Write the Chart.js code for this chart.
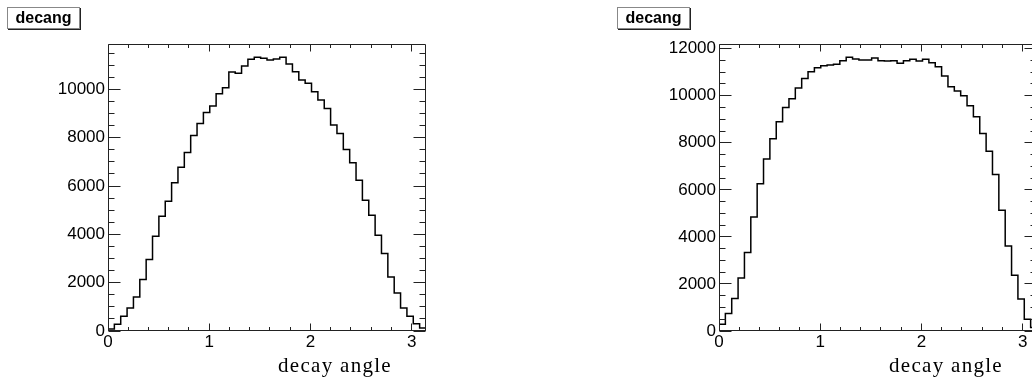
<!DOCTYPE html>
<html><head><meta charset="utf-8">
<script src="https://cdn.jsdelivr.net/npm/chart.js@4.4.1/dist/chart.umd.min.js"></script>
<style>
html,body{margin:0;padding:0;width:1032px;height:384px;overflow:hidden;background:#fff;}
.pane{position:absolute;top:0;width:516px;height:384px;}
.pane canvas{position:absolute;left:0;top:0;}
.tbox{position:absolute;top:7px;width:71px;height:20px;border:1px solid #888;box-shadow:1px 1px 0 #222;
  font:bold 16px "Liberation Sans",Arial,sans-serif;line-height:20px;text-align:center;color:#000;background:#fff;}
.xt{position:absolute;top:355px;left:278px;font:21px "Liberation Serif","Times New Roman",serif;
  letter-spacing:1.3px;line-height:21px;color:#000;white-space:nowrap;}
</style></head><body>
<div class="pane" style="left:0px"><canvas id="c1" width="516" height="384"></canvas>
  <div class="tbox" style="left:7px">decang</div><div class="xt">decay angle</div></div>
<div class="pane" style="left:611px"><canvas id="c2" width="516" height="384"></canvas>
  <div class="tbox" style="left:6px">decang</div><div class="xt">decay angle</div></div>
<script>
// ---- data ----
const XMIN = 0;
const XMAX = Math.PI;
const leftCounts = [80, 276, 608, 952, 1408, 2129, 2958, 3923, 4752, 5374,
  6133, 6782, 7392, 8096, 8593, 9049, 9310, 9820, 10069, 10719,
  10665, 10968, 11246, 11328, 11287, 11217, 11258, 11328, 11051, 10732,
  10388, 10251, 9903, 9559, 9215, 8523, 8179, 7516, 6961, 6244,
  5415, 4793, 3965, 3206, 2237, 1574, 952, 608, 305, 123];
const rightCounts = [290, 739, 1377, 2254, 3339, 4849, 6255, 7313, 8177, 8892,
  9496, 9871, 10326, 10738, 11019, 11190, 11275, 11304, 11334, 11487,
  11632, 11560, 11517, 11517, 11602, 11487, 11474, 11487, 11377, 11487,
  11547, 11474, 11547, 11402, 11232, 10836, 10381, 10198, 9998, 9572,
  9104, 8398, 7645, 6654, 5135, 3611, 2369, 1356, 497, 150];
const xTickLabels = ['0', '1', '2', '3'];
const leftYTickLabels = ['0', '2000', '4000', '6000', '8000', '10000'];
const rightYTickLabels = ['0', '2000', '4000', '6000', '8000', '10000', '12000'];
const leftYMax = 11880;
const rightYMax = 12200;

Chart.defaults.font.family = '"Liberation Sans", Arial, Helvetica, sans-serif';
Chart.defaults.color = '#000';

function histPoints(counts) {
  const n = counts.length, w = (XMAX - XMIN) / n;
  const pts = [{x: XMIN, y: 0}];
  counts.forEach((c, i) => pts.push({x: XMIN + i * w, y: c}));
  pts.push({x: XMAX, y: counts[n - 1]});
  pts.push({x: XMAX, y: 0});
  return pts;
}

const rootFrame = {
  id: 'rootFrame',
  afterDatasetsDraw(chart) {
    const {ctx, chartArea: a, scales: {x, y}} = chart;
    const o = chart.options.plugins.rootFrame;
    ctx.save();
    ctx.strokeStyle = '#222';
    ctx.lineWidth = 1;
    ctx.beginPath();
    const L = a.left + 0.5, R = a.right - 0.5, T = a.top + 0.5, B = a.bottom - 0.5;
    ctx.rect(L, T, R - L, B - T);
    const nx = Math.floor((x.max - x.min) / o.xMinor + 1e-6);
    for (let i = 0; i <= nx; i++) {
      const v = x.min + i * o.xMinor;
      const major = Math.abs(v / o.xMajor - Math.round(v / o.xMajor)) < 1e-6;
      const len = major ? 7 : 3.5;
      const px = Math.floor(x.getPixelForValue(v)) + 0.5;
      ctx.moveTo(px, B); ctx.lineTo(px, B - len);
      ctx.moveTo(px, T); ctx.lineTo(px, T + len);
    }
    const ny = Math.floor((y.max - y.min) / o.yMinor + 1e-6);
    for (let i = 0; i <= ny; i++) {
      const v = y.min + i * o.yMinor;
      const major = Math.abs(v / o.yMajor - Math.round(v / o.yMajor)) < 1e-6;
      const len = major ? 12 : 6;
      const py = Math.floor(y.getPixelForValue(v)) + 0.5;
      ctx.moveTo(L, py); ctx.lineTo(L + len, py);
      ctx.moveTo(R, py); ctx.lineTo(R - len, py);
    }
    ctx.stroke();
    ctx.restore();
  }
};

function makeChart(id, counts, yMax, yLabels) {
  return new Chart(document.getElementById(id), {
    type: 'line',
    data: {
      datasets: [{
        data: histPoints(counts),
        stepped: true,
        borderColor: '#000',
        borderWidth: 1.5,
        pointRadius: 0,
        fill: false,
        tension: 0
      }]
    },
    options: {
      responsive: false,
      animation: false,
      events: [],
      layout: {padding: {left: 0, top: 44, right: 90, bottom: 0}},
      plugins: {
        legend: {display: false},
        tooltip: {enabled: false},
        rootFrame: {xMajor: 1, xMinor: 0.2, yMajor: 2000, yMinor: 500}
      },
      scales: {
        x: {
          type: 'linear', min: XMIN, max: XMAX,
          grid: {display: false, drawTicks: false},
          border: {display: false},
          ticks: {font: {size: 17}, padding: 1, maxRotation: 0, autoSkip: false, includeBounds: false,
            callback: (v, i) => xTickLabels[i]},
          afterBuildTicks(s) { s.ticks = xTickLabels.map(t => ({value: Number(t)})); },
          afterFit(s) { s.height = 53; }
        },
        y: {
          type: 'linear', min: 0, max: yMax,
          grid: {display: false, drawTicks: false},
          border: {display: false},
          ticks: {font: {size: 17}, padding: 3, autoSkip: false, includeBounds: false,
            callback: (v, i) => yLabels[i]},
          afterBuildTicks(s) { s.ticks = yLabels.map(t => ({value: Number(t)})); },
          afterFit(s) { s.width = 108; }
        }
      }
    },
    plugins: [rootFrame]
  });
}

makeChart('c1', leftCounts, leftYMax, leftYTickLabels);
makeChart('c2', rightCounts, rightYMax, rightYTickLabels);
</script>
</body></html>
